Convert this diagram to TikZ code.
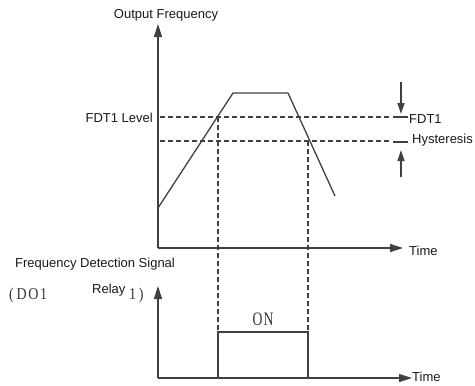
\documentclass[tikz,border=0pt]{standalone}
\usepackage{fontspec}
\setmainfont{Liberation Sans}
\newfontfamily\cnserif[FakeStretch=0.85,LetterSpace=10]{Liberation Serif}
\newfontfamily\cnon[FakeStretch=0.72,LetterSpace=6]{Liberation Serif}
\usetikzlibrary{arrows.meta}
\begin{document}
\begin{tikzpicture}[x=1pt,y=-1pt,
  ln/.style={line width=1.3pt,draw=black!75},
  dsh/.style={line width=1.2pt,draw=black!75,dash pattern=on 5pt off 3pt},
  axis/.style={ln,-{Triangle[length=13pt,width=8pt]}},
  harr/.style={ln,-{Triangle[length=11pt,width=7pt]}},
  lbl/.style={inner sep=0pt,text=black!90,font=\fontsize{13}{15}\selectfont},
  ser/.style={inner sep=0pt,text=black!80,font=\cnserif\fontsize{16.5}{18}\selectfont},
  onl/.style={inner sep=0pt,text=black!80,font=\cnon\fontsize{19}{21}\selectfont}]
\useasboundingbox (0,0) rectangle (475,386);
% upper axes
\coordinate (o1) at (158,248);
\coordinate (y1) at (158,24);
\coordinate (x1) at (403,248);
\draw[axis] (o1) -- (y1);
\draw[axis] (o1) -- (x1);
% curve
\coordinate (c0) at (158,208);
\coordinate (c1) at (233,93);
\coordinate (c2) at (288,93);
\coordinate (c3) at (335,196);
\draw[ln] (c0) -- (c1) -- (c2) -- (c3);
% levels
\coordinate (l1a) at (160,117);
\coordinate (l1b) at (391,117);
\coordinate (l2a) at (160,141);
\coordinate (l2b) at (391,141);
\draw[dsh] (l1a) -- (l1b);
\draw[dsh] (l2a) -- (l2b);
\coordinate (t1a) at (393,117);
\coordinate (t1b) at (408,117);
\coordinate (t2a) at (393,142);
\coordinate (t2b) at (408,142);
\draw[ln] (t1a) -- (t1b);
\draw[ln] (t2a) -- (t2b);
\coordinate (a1s) at (401,82);
\coordinate (a1e) at (401,114);
\coordinate (a2s) at (401,177);
\coordinate (a2e) at (401,150);
\draw[harr] (a1s) -- (a1e);
\draw[harr] (a2s) -- (a2e);
% vertical dashed
\coordinate (v1a) at (218,117);
\coordinate (v1b) at (218,332);
\coordinate (v2a) at (308,141);
\coordinate (v2b) at (308,332);
\draw[dsh] (v1a) -- (v1b);
\draw[dsh] (v2a) -- (v2b);
% lower axes
\coordinate (o2) at (158,378);
\coordinate (y2) at (158,286);
\coordinate (x2) at (412,378);
\draw[axis] (o2) -- (y2);
\draw[axis] (o2) -- (x2);
% pulse
\coordinate (p0) at (218,378);
\coordinate (p1) at (218,332);
\coordinate (p2) at (308,332);
\coordinate (p3) at (308,378);
\draw[ln] (p0) -- (p1) -- (p2) -- (p3);
% labels
\node[lbl] (of) at (166,15) {Output Frequency};
\node[lbl,anchor=east] (fl) at (153,118) {FDT1 Level};
\node[lbl,anchor=west] (tm1) at (409,251) {Time};
\node[lbl,anchor=west] (fd) at (409,119) {FDT1};
\node[lbl,anchor=west] (hy) at (412,140) {Hysteresis};
\node[lbl,anchor=west] (fds) at (15,264) {Frequency Detection Signal};
\node[lbl,anchor=west] (rl) at (92,290) {Relay};
\node[ser,anchor=west] (do) at (9,296) {(\,DO1};
\node[ser,anchor=west] (one) at (129,296) {1\,)};
\node[lbl,anchor=west] (tm2) at (412,377) {Time};
\node[onl] (on) at (263,319) {ON};
\end{tikzpicture}
\end{document}
